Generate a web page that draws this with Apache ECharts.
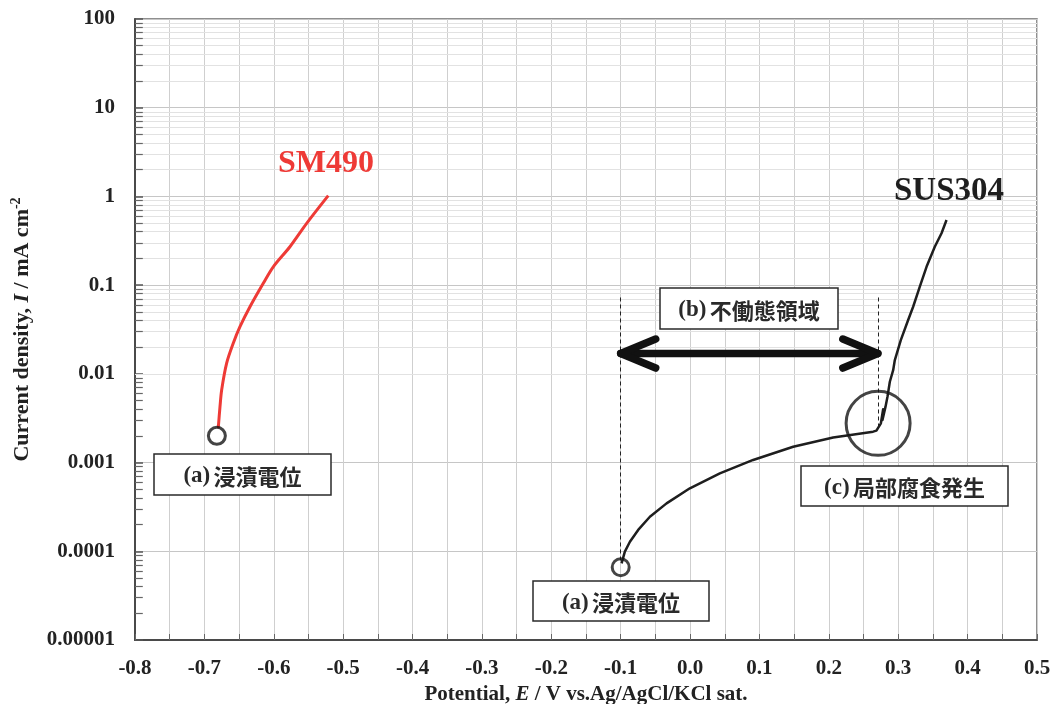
<!DOCTYPE html>
<html>
<head>
<meta charset="utf-8">
<title>Anodic polarization curves: SM490 and SUS304</title>
<script src="https://cdn.jsdelivr.net/npm/echarts@6/dist/echarts.min.js"></script>
<style>
  html, body { margin: 0; padding: 0; background: #ffffff; }
  #chart { width: 1051px; height: 704px; }
</style>
</head>
<body>
<div id="chart"></div>
<script>
// Potential axis ticks (V vs. Ag/AgCl/KCl sat.)
const potentialMin = -0.8;
const potentialMax = 0.5;
const potentialStep = 0.1;

// Current density decade labels (mA cm^-2)
const currentTickLabels = ['0.00001', '0.0001', '0.001', '0.01', '0.1', '1', '10', '100'];

// SM490 (carbon steel) polarization curve
const sm490Potential = [-0.680, -0.6775, -0.6751, -0.6679, -0.6584, -0.6487, -0.6343, -0.6151, -0.6007, -0.5767, -0.5526, -0.5215];
const sm490Current   = [0.00245, 0.00427, 0.00658, 0.0132, 0.0221, 0.034, 0.0571, 0.105, 0.161, 0.271, 0.497, 1.02];

// SUS304 (stainless steel) polarization curve
const sus304Potential = [-0.0987, -0.094, -0.0867, -0.0748, -0.0579, -0.0339, -0.0003, 0.0429, 0.0909, 0.1486, 0.2062, 0.2638, 0.2686, 0.271, 0.275, 0.2782, 0.2773, 0.2817, 0.2845, 0.2879, 0.2927, 0.2951, 0.3037, 0.3143, 0.3215, 0.3311, 0.3408, 0.3527, 0.3624, 0.3696];
const sus304Current   = [7.3e-5, 9.9e-5, 1.28e-4, 1.74e-4, 2.45e-4, 3.47e-4, 5.13e-4, 7.55e-4, 1.07e-3, 1.51e-3, 1.92e-3, 2.23e-3, 2.29e-3, 2.37e-3, 2.77e-3, 3.98e-3, 3.02e-3, 4.27e-3, 5.52e-3, 8.15e-3, 0.011, 0.0143, 0.024, 0.0405, 0.0571, 0.096, 0.161, 0.271, 0.384, 0.542];

// Immersion (rest) potentials: [E, I]
const restPoints = [[-0.682, 0.002], [-0.1, 6.6e-5]];
// Onset of localized corrosion
const pittingPoint = [[0.271, 0.00277]];
// Passive region bounds
const passiveStart = -0.1;
const passiveEnd = 0.2706;
const passiveArrowLevel = 0.01695;
const passiveGuideTop = 0.0726;
const passiveGuideBottoms = [7.5e-5, 0.00235];

const SERIF = '"Liberation Serif", "Times New Roman", serif';
const CJK = '"Noto Sans CJK JP", "Noto Sans CJK SC", sans-serif';

function zip(xs, ys) { return xs.map((x, i) => [x, ys[i]]); }

// minor log grid positions (2..9 within each decade)
const minorValues = [];
for (let k = -5; k < 2; k++) {
  for (let m = 2; m <= 9; m++) minorValues.push(m * Math.pow(10, k));
}
const tickLen = 6 / 694 * 1.3; // about 6 px in potential units

const chart = echarts.init(document.getElementById('chart'), null, { renderer: 'canvas' });

const option = {
  animation: false,
  backgroundColor: '#ffffff',
  grid: {
    left: 135, right: 14, top: 19, bottom: 64,
    outerBoundsMode: 'none', containLabel: false,
    show: true, borderColor: '#6b6b6b', borderWidth: 1.5, backgroundColor: 'transparent'
  },
  xAxis: {
    type: 'value',
    min: potentialMin, max: potentialMax, interval: potentialStep,
    name: 'Potential, {it|E} / V vs.Ag/AgCl/KCl sat.',
    nameLocation: 'middle', nameGap: 44,
    nameTextStyle: {
      fontFamily: SERIF, fontWeight: 'bold', fontSize: 21, color: '#222',
      rich: { it: { fontFamily: SERIF, fontWeight: 'bold', fontStyle: 'italic', fontSize: 21, color: '#222' } }
    },
    axisLine: { show: true, onZero: false, lineStyle: { color: '#4a4a4a', width: 2 } },
    axisTick: { show: true, inside: true, length: 6, lineStyle: { color: '#666', width: 1 } },
    minorTick: { show: true, splitNumber: 2, length: 6, lineStyle: { color: '#666', width: 1 } },
    splitLine: { show: true, lineStyle: { color: '#cfcfcf', width: 1 } },
    minorSplitLine: { show: true, lineStyle: { color: '#cfcfcf', width: 1 } },
    axisLabel: {
      margin: 18, fontFamily: SERIF, fontWeight: 'bold', fontSize: 21, color: '#222',
      formatter: v => (v < -1e-9 ? '-' : '') + Math.abs(v).toFixed(1)
    }
  },
  yAxis: {
    type: 'log', logBase: 10, min: 1e-5, max: 100,
    name: 'Current density, {it|I} / mA cm{sup|-2}',
    nameLocation: 'middle', nameGap: 100,
    nameTextStyle: {
      fontFamily: SERIF, fontWeight: 'bold', fontSize: 22, color: '#222', lineHeight: 26,
      rich: {
        it: { fontFamily: SERIF, fontWeight: 'bold', fontStyle: 'italic', fontSize: 22, color: '#222', lineHeight: 26 },
        sup: { fontFamily: SERIF, fontWeight: 'bold', fontSize: 14, color: '#222', verticalAlign: 'top', lineHeight: 26 }
      }
    },
    axisLine: { show: true, onZero: false, lineStyle: { color: '#4a4a4a', width: 2 } },
    axisTick: { show: true, inside: true, length: 8, lineStyle: { color: '#555', width: 1.5 } },
    splitLine: { show: true, lineStyle: { color: '#c6c6c6', width: 1 } },
    axisLabel: {
      margin: 20, fontFamily: SERIF, fontWeight: 'bold', fontSize: 21, color: '#222',
      formatter: v => currentTickLabels[Math.round(Math.log10(v)) + 5]
    }
  },
  series: [
    {
      // minor log grid lines and left-side minor ticks
      name: 'grid-minor', type: 'line', data: [], silent: true, z: 1,
      markLine: {
        silent: true, symbol: ['none', 'none'], animation: false, z: 1,
        label: { show: false },
        emphasis: { disabled: true },
        data: minorValues.map(v => ({ yAxis: v, lineStyle: { color: '#e2e2e2', width: 1, type: 'solid' } }))
          .concat(minorValues.map(v => [
            { coord: [potentialMin, v], lineStyle: { color: '#666', width: 1.2, type: 'solid' } },
            { coord: [potentialMin + tickLen, v] }
          ]))
      }
    },
    {
      name: 'SM490', type: 'line', data: zip(sm490Potential, sm490Current),
      smooth: 0.3, showSymbol: false, z: 6,
      lineStyle: { color: '#ee3a36', width: 3 }
    },
    {
      name: 'SUS304', type: 'line', data: zip(sus304Potential, sus304Current),
      smooth: false, showSymbol: false, z: 6,
      lineStyle: { color: '#1e1e1e', width: 2.5, join: 'round' },
      markLine: {
        silent: true, symbol: ['none', 'none'], animation: false, z: 2,
        label: { show: false },
        lineStyle: { color: '#222', width: 1, type: [4, 3] },
        data: [
          [{ coord: [passiveStart, passiveGuideTop] }, { coord: [passiveStart, passiveGuideBottoms[0]] }],
          [{ coord: [passiveEnd, passiveGuideTop] }, { coord: [passiveEnd, passiveGuideBottoms[1]] }]
        ]
      }
    },
    {
      name: 'rest-potential', type: 'scatter', data: restPoints, symbol: 'circle', symbolSize: 17, z: 7,
      itemStyle: { color: 'rgba(0,0,0,0)', borderColor: '#151515', borderWidth: 3 }
    },
    {
      name: 'pitting', type: 'scatter', data: pittingPoint, symbol: 'circle', symbolSize: 64, z: 7,
      itemStyle: { color: 'rgba(0,0,0,0)', borderColor: '#151515', borderWidth: 3 }
    }
  ]
};

chart.setOption(option);

// labelled boxes
function box(x, y, w, h, letter, jp) {
  return {
    type: 'group', z: 20,
    children: [
      { type: 'rect', z: 20, shape: { x: x, y: y, width: w, height: h },
        style: { fill: '#ffffff', stroke: '#2a2a2a', lineWidth: 1.5 } },
      { type: 'text', z: 21, x: x + w / 2, y: y + h / 2 + 2,
        style: {
          text: '{a|' + letter + '} {b|' + jp + '}',
          align: 'center', verticalAlign: 'middle',
          rich: {
            a: { fontFamily: SERIF, fontWeight: 'bold', fontSize: 23, fill: '#2a2a2a' },
            b: { fontFamily: CJK, fontWeight: 'bold', fontSize: 22, fill: '#2a2a2a' }
          }
        } }
    ]
  };
}

// passive range arrow, anchored to data coordinates
const pL = chart.convertToPixel({ gridIndex: 0 }, [passiveStart, passiveArrowLevel]);
const pR = chart.convertToPixel({ gridIndex: 0 }, [passiveEnd, passiveArrowLevel]);
const arm = 35, armY = 14.5;
const arrowStyle = { stroke: '#111', lineWidth: 7.5, lineCap: 'round', lineJoin: 'round', fill: null };

chart.setOption({
  graphic: [
    { type: 'polyline', z: 15, shape: { points: [pL, pR] }, style: arrowStyle },
    { type: 'polyline', z: 15, shape: { points: [[pL[0] + arm, pL[1] - armY], pL, [pL[0] + arm, pL[1] + armY]] }, style: arrowStyle },
    { type: 'polyline', z: 15, shape: { points: [[pR[0] - arm, pR[1] - armY], pR, [pR[0] - arm, pR[1] + armY]] }, style: arrowStyle },
    box(154, 454, 177, 41, '(a)', '浸漬電位'),
    box(533, 581, 176, 40, '(a)', '浸漬電位'),
    box(660, 288, 178, 41, '(b)', '不働態領域'),
    box(801, 466, 207, 40, '(c)', '局部腐食発生'),
    { type: 'text', z: 20, x: 326, y: 164,
      style: { text: 'SM490', align: 'center', verticalAlign: 'middle',
        fontFamily: SERIF, fontWeight: 'bold', fontSize: 32, fill: '#ee3a36' } },
    { type: 'text', z: 20, x: 949, y: 191,
      style: { text: 'SUS304', align: 'center', verticalAlign: 'middle',
        fontFamily: SERIF, fontWeight: 'bold', fontSize: 33, fill: '#1e1e1e' } }
  ]
});
</script>
</body>
</html>
